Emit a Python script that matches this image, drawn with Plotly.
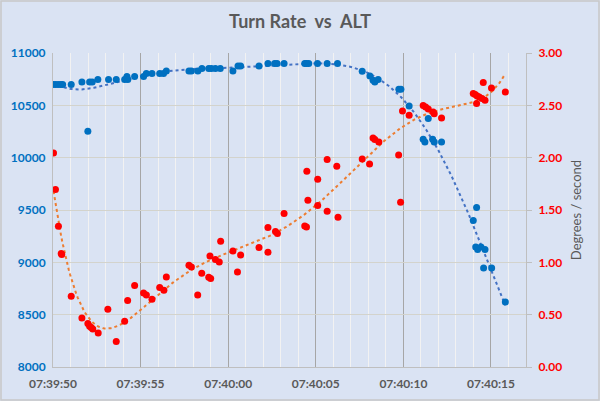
import numpy as np
import pandas as pd
import plotly.graph_objects as go

# seconds after 07:39:50
base = pd.Timestamp("2024-01-01 07:39:50")

alt_t = [0.0, 0.15, 0.3, 0.45, 0.55, 1.04, 1.65, 1.99, 2.09, 2.24, 2.56, 3.17, 3.61, 4.09, 4.22,
         4.27, 4.66, 5.17, 5.33, 5.65, 6.09, 6.31, 6.47, 7.76, 7.9, 8.27, 8.5, 8.89, 9.04, 9.27,
         9.55, 10.27, 10.56, 10.71, 11.76, 12.27, 12.65, 12.79, 13.19, 14.37, 14.47, 14.6, 15.1,
         15.65, 16.24, 17.65, 18.09, 18.27, 18.37, 18.56, 19.74, 19.86, 20.33, 21.13, 21.23,
         21.42, 21.67, 21.76, 22.18, 23.99, 24.18, 24.13, 24.24, 24.43, 24.66, 24.58, 25.04, 25.82]
alt = [10700, 10700, 10700, 10700, 10700, 10700, 10724, 10253, 10724, 10724, 10747, 10747, 10747,
       10747, 10776, 10747, 10776, 10776, 10804, 10804, 10804, 10804, 10829, 10829, 10829, 10829,
       10853, 10853, 10853, 10853, 10853, 10829, 10876, 10876, 10876, 10900, 10900, 10900, 10900,
       10900, 10900, 10900, 10900, 10900, 10900, 10826, 10781, 10740, 10724, 10747, 10654, 10654,
       10494, 10176, 10150, 10374, 10176, 10150, 10150, 9399, 9523, 9147, 9122, 9147, 9122, 8946,
       8946, 8621]

rate_t = [0.03, 0.14, 0.31, 0.47, 0.5, 1.04, 1.65, 1.99, 2.09, 2.18, 2.27, 2.58, 3.13, 3.61, 4.09,
          4.26, 4.66, 5.17, 5.33, 5.65, 6.09, 6.33, 6.47, 7.76, 7.9, 8.26, 8.49, 8.89, 8.96, 9.0,
          9.27, 9.49, 9.57, 10.27, 10.53, 10.71, 11.76, 12.27, 12.27, 12.7, 12.81, 13.19, 14.37,
          14.47, 14.49, 14.55, 15.11, 15.11, 15.65, 15.65, 16.2, 16.27, 17.65, 18.07, 18.27, 18.37,
          18.6, 19.73, 19.84, 19.95, 20.33, 21.13, 21.27, 21.42, 21.7, 21.76, 22.18, 23.99, 24.1,
          24.21, 24.33, 24.49, 24.66, 24.18, 24.56, 25.03, 25.82]
rate = [2.045, 1.695, 1.345, 1.084, 1.074, 0.676, 0.468, 0.415, 0.389, 0.377, 0.363, 0.325, 0.551,
        0.243, 0.437, 0.635, 0.778, 0.707, 0.688, 0.647, 0.759, 0.733, 0.86, 0.972, 0.956, 0.688,
        0.895, 0.857, 1.061, 0.845, 1.026, 1.003, 1.201, 1.109, 0.908, 1.07, 1.141, 1.096, 1.332,
        1.294, 1.275, 1.466, 1.348, 1.338, 1.870, 1.593, 1.794, 1.542, 1.982, 1.488, 1.918, 1.431,
        1.988, 1.94, 2.189, 2.173, 2.150, 2.026, 1.574, 2.447, 2.405, 2.498, 2.485, 2.466, 2.437,
        2.42, 2.38, 2.613, 2.603, 2.59, 2.58, 2.565, 2.549, 2.517, 2.718, 2.666, 2.628]


def to_time(secs):
    return [base + pd.Timedelta(seconds=s) for s in secs]


def trend(ts, vals, deg=6):
    ts = np.asarray(ts)
    coef = np.polyfit(ts, vals, deg)
    xs = np.linspace(ts.min(), ts.max(), 300)
    return to_time(xs), np.polyval(coef, xs)


BG = "#DAE3F3"
GRAY = "#595959"

fig = go.Figure()
tx, ty = trend(alt_t, alt)
fig.add_trace(go.Scatter(x=tx, y=ty, mode="lines", line=dict(color="#4472C4", width=2, dash="dot")))
tx, ty = trend(rate_t, rate)
fig.add_trace(go.Scatter(x=tx, y=ty, mode="lines", yaxis="y2",
                         line=dict(color="#ED7D31", width=2, dash="dot")))
fig.add_trace(go.Scatter(x=to_time(alt_t), y=alt, mode="markers",
                         marker=dict(color="#0070C0", size=7)))
fig.add_trace(go.Scatter(x=to_time(rate_t), y=rate, mode="markers", yaxis="y2",
                         marker=dict(color="#FF0000", size=7)))

pw, ph = 600 - 53 - 74, 401 - 53 - 34
fig.update_layout(
    width=600, height=401,
    margin=dict(l=53, r=74, t=53, b=34),
    paper_bgcolor=BG, plot_bgcolor=BG,
    showlegend=False,
    font=dict(family="Lato", color=GRAY),
    title=dict(text="Turn Rate \u00a0vs \u00a0ALT", x=0.5, xanchor="center", y=0.947, yanchor="middle",
               font=dict(size=18, color=GRAY, weight="bold")),
    xaxis=dict(
        type="date", automargin=False,
        range=[base, base + pd.Timedelta(seconds=27)],
        tickformat="%H:%M:%S", dtick=5000, tick0=base,
        tickfont=dict(size=12, color=GRAY, weight="bold"), ticklabelstandoff=6,
        showgrid=True, gridcolor="#A6A6A6", gridwidth=1,
        minor=dict(dtick=1000, showgrid=True, gridcolor="#F2F2F2", gridwidth=1),
        showline=True, linecolor="#BFBFBF", ticks="", zeroline=False,
    ),
    yaxis=dict(
        automargin=False,
        range=[8000, 11000], dtick=500, tickformat="d",
        tickfont=dict(size=12, color="#0070C0", weight="bold"), ticklabelstandoff=4,
        gridcolor="#D3D3CC", showline=True, linecolor="#BFBFBF", zeroline=False,
        ticks="", ticklen=0,
    ),
    yaxis2=dict(
        automargin=False,
        range=[0, 3], dtick=0.5, tickformat=".2f", overlaying="y", side="right",
        tickfont=dict(size=12, color="#FF0000", weight="bold"), ticklabelstandoff=4,
        showgrid=False, showline=True, linecolor="#BFBFBF", zeroline=False,
        ticks="outside", ticklen=5, tickcolor="#BFBFBF",
        title=dict(text="Degrees / second", font=dict(size=13, color=GRAY), standoff=10),
    ),
    shapes=[dict(type="rect", xref="paper", yref="paper", layer="above",
                 x0=(-53 + 1) / pw, x1=1 + (74 - 1) / pw, y0=(-34 + 1) / ph, y1=1 + (53 - 1) / ph,
                 line=dict(color="#C8C8C8", width=1.5))],
)

# page body has a default 8px margin; drop it so the chart sits at the window origin
fig.write_html("out.html", config={"displayModeBar": False},
               post_script="document.body.style.margin='0';")
